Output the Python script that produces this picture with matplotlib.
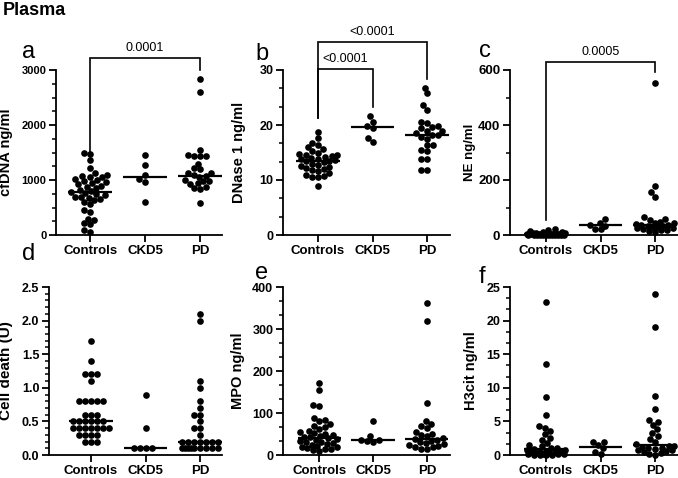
# -*- coding: utf-8 -*-
"""
Plasma markers: scatter dot plots with median lines, Controls / CKD5 / PD.
"""
import numpy as np
import matplotlib
matplotlib.use("Agg")
import matplotlib.pyplot as plt
from matplotlib.ticker import MultipleLocator

plt.rcParams['font.family'] = ['Liberation Sans', 'DejaVu Sans']

groups = ["Controls", "CKD5", "PD"]

# a: cfDNA ng/ml
cfdna_ctrl = [1500, 1480, 1360, 1210, 1120, 1100, 1080, 1060, 1050, 1020, 1000, 980, 960,
              940, 920, 900, 880, 860, 820, 800, 780, 760, 740, 720, 700, 690, 680, 660,
              640, 600, 560, 450, 420, 300, 280, 210, 200, 90, 60]
cfdna_ckd5 = [1450, 1280, 1090, 1010, 970, 605]
cfdna_pd = [2830, 2600, 1540, 1450, 1440, 1430, 1430, 1300, 1210, 1200, 1130, 1120, 1100,
            1080, 1060, 1000, 990, 980, 940, 930, 880, 850, 840, 580]
cfdna_med = [785, 1060, 1080]

# b: DNase 1 ng/ml
dnase_ctrl = [18.8, 17.6, 16.8, 16.4, 16.0, 15.6, 15.3, 15.0, 14.8, 14.6, 14.5, 14.3, 14.2,
              14.0, 13.9, 13.8, 13.6, 13.5, 13.4, 13.2, 13.0, 12.8, 12.6, 12.4, 12.2, 12.0,
              11.8, 11.6, 11.3, 11.0, 10.8, 10.6, 10.5, 9.0]
dnase_ckd5 = [21.6, 20.6, 19.8, 19.5, 17.7, 17.0]
dnase_pd = [26.8, 25.8, 23.6, 22.8, 20.6, 20.3, 19.9, 19.7, 19.4, 19.0, 19.0, 18.5, 18.2,
            18.1, 17.9, 17.5, 16.4, 16.3, 15.5, 15.2, 13.9, 13.8, 11.9, 11.8]
dnase_med = [13.5, 19.7, 18.2]

# c: NE ng/ml
ne_ctrl = [22, 18, 15, 12, 10, 8, 7, 6, 5, 5, 4, 4, 3, 3, 3, 2, 2, 2, 1, 1, 1, 1,
           0.5, 0.5, 0.5, 0.5, 0.3, 0.3, 0.2, 0.1]
ne_ckd5 = [60, 45, 38, 34, 22, 21]
ne_pd = [553, 178, 155, 140, 65, 60, 55, 48, 45, 42, 40, 38, 36, 34, 32, 30, 28, 26,
         24, 22, 20, 18, 15, 12]
ne_med = [4, 37, 35]

# d: Cell death (U)
cd_ctrl = [1.7, 1.4, 1.2, 1.2, 1.2, 1.1, 0.8, 0.8, 0.8, 0.8, 0.8, 0.6, 0.6, 0.6,
           0.5, 0.5, 0.5, 0.5, 0.5, 0.5, 0.4, 0.4, 0.4, 0.4, 0.4, 0.4, 0.4,
           0.3, 0.3, 0.3, 0.3, 0.2, 0.2, 0.2]
cd_ckd5 = [0.9, 0.4, 0.1, 0.1, 0.1, 0.1]
cd_pd = [2.1, 2.0, 1.1, 1.0, 0.8, 0.7, 0.6, 0.6, 0.5, 0.4, 0.4, 0.3,
         0.2, 0.2, 0.2, 0.2, 0.2, 0.2, 0.2,
         0.1, 0.1, 0.1, 0.1, 0.1, 0.1, 0.1, 0.1, 0.1]
cd_med = [0.5, 0.1, 0.2]

# e: MPO ng/ml
mpo_ctrl = [171, 155, 119, 116, 88, 84, 80, 75, 70, 66, 62, 58, 55, 52, 50, 48, 46, 44,
            42, 40, 38, 36, 34, 32, 30, 28, 26, 24, 22, 20, 18, 16, 15, 14, 12, 10]
mpo_ckd5 = [80, 45, 36, 35, 33, 32]
mpo_pd = [362, 320, 125, 80, 74, 70, 65, 55, 50, 48, 45, 40, 38, 36, 34, 30, 28, 26,
          24, 22, 20, 18, 15, 14]
mpo_med = [41, 35, 39]

# f: H3cit ng/ml
h3_ctrl = [22.7, 13.6, 8.6, 5.9, 4.3, 4.0, 3.5, 3.1, 2.6, 2.2, 1.8, 1.5, 1.3, 1.1, 1.0,
           0.9, 0.8, 0.7, 0.6, 0.5, 0.5, 0.4, 0.4, 0.3, 0.3, 0.2, 0.2, 0.1, 0.1, 0.05,
           0.05, 0.0, 0.0]
h3_ckd5 = [2.0, 1.9, 1.5, 1.0, 0.4, 0.2]
h3_pd = [23.9, 19.1, 8.8, 6.8, 5.2, 4.9, 4.5, 3.8, 3.2, 2.8, 2.4, 2.0, 1.6, 1.4, 1.3,
         1.2, 1.1, 1.0, 0.9, 0.8, 0.7, 0.6, 0.5, 0.3, 0.2, 0.0]
h3_med = [0.84, 1.2, 1.5]

W, H = 678, 478
fig = plt.figure(figsize=(W / 100, H / 100), dpi=100)


def px_axes(left, top, right, bottom):
    return fig.add_axes([left / W, 1 - bottom / H, (right - left) / W, (bottom - top) / H])


def swarm_x(ax, xc, vals, diam=6.0, maxw=19.0):
    # beeswarm offsets in pixels, limited to +-maxw (points overlap beyond that)
    pts = ax.transData.transform(np.column_stack([np.full(len(vals), xc), vals]))
    ys = pts[:, 1]
    xoff = np.zeros(len(vals))
    placed = []
    grid = np.linspace(-maxw, maxw, 39)
    for i in np.argsort(ys, kind="stable"):
        y = ys[i]
        near = [(px, py) for px, py in placed if abs(py - y) < diam]
        cands = [0.0]
        for px, py in near:
            dx = np.sqrt(diam ** 2 - (py - y) ** 2)
            cands += [px - dx, px + dx]
        cands = sorted([c for c in cands if abs(c) <= maxw], key=abs)
        best = None
        for c in cands:
            if all((c - px) ** 2 + (y - py) ** 2 >= diam ** 2 - 1e-6 for px, py in near):
                best = c
                break
        if best is None:
            dmin = [min((g - px) ** 2 + (y - py) ** 2 for px, py in near) for g in grid]
            best = grid[int(np.argmax(dmin))]
        xoff[i] = best
        placed.append((best, y))
    back = ax.transData.inverted().transform(np.column_stack([pts[:, 0] + xoff, ys]))
    return back[:, 0]


def panel(rect, xlim, ylim, major, minor, data, med, ylabel, lab_x, ylab_size, ytick_size):
    ax = px_axes(*rect)
    ax.set_xlim(*xlim)
    ax.set_ylim(*ylim)
    for s in ["top", "right"]:
        ax.spines[s].set_visible(False)
    for s in ["left", "bottom"]:
        ax.spines[s].set_linewidth(1.3)
    ax.yaxis.set_major_locator(MultipleLocator(major))
    ax.yaxis.set_minor_locator(MultipleLocator(minor))
    ax.set_xticks(range(3))
    ax.set_xticklabels(groups, fontweight="bold", fontsize=9.5)
    ax.tick_params(axis="x", length=5, width=1.3, pad=2)
    ax.tick_params(axis="y", which="major", length=5, width=1.3, pad=2,
                   labelsize=ytick_size)
    ax.tick_params(axis="y", which="minor", length=3, width=1.1)
    for t in ax.get_yticklabels():
        t.set_fontweight("bold")
    ax.set_ylabel(ylabel, fontweight="bold", fontsize=ylab_size)
    ax.yaxis.set_label_coords(lab_x, 0.5)
    for i, vals in enumerate(data):
        xs = swarm_x(ax, i, vals)
        ax.plot(xs, vals, "o", color="black", markersize=4.8, markeredgewidth=0,
                clip_on=False, zorder=3)
        ax.plot([i - 0.4, i + 0.4], [med[i], med[i]], color="black", lw=1.6,
                solid_capstyle="butt", zorder=4, clip_on=False)
    return ax


def bracket(ax, x1, x2, ybar, y1, y2, text, tx=None):
    ax.plot([x1, x1, x2, x2], [y1, ybar, ybar, y2], color="black", lw=1.2,
            clip_on=False, solid_joinstyle="miter")
    if tx is None:
        tx = (x1 + x2) / 2
    ax.annotate(text, xy=(tx, ybar), xytext=(0, 3), textcoords="offset points",
                ha="center", va="bottom", fontsize=9, annotation_clip=False)


ax_a = panel((56, 70, 222, 235), (-0.62, 2.4), (0, 3000), 1000, 250,
             [cfdna_ctrl, cfdna_ckd5, cfdna_pd], cfdna_med, "cfDNA ng/ml", -0.26, 10.5, 8)
bracket(ax_a, 0, 2, 3218, 1510, 3000, "0.0001")

ax_b = panel((283, 70, 450, 235), (-0.64, 2.42), (0, 30), 10, 10 / 3,
             [dnase_ctrl, dnase_ckd5, dnase_pd], dnase_med, "DNase 1 ng/ml", -0.22, 10.5, 9)
bracket(ax_b, 0, 1, 30.2, 21.3, 23.3, "<0.0001")
bracket(ax_b, 0, 2, 35.1, 21.3, 28.4, "<0.0001")

ax_c = panel((510, 70, 678, 235), (-0.66, 2.42), (0, 600), 200, 100,
             [ne_ctrl, ne_ckd5, ne_pd], ne_med, "NE ng/ml", -0.20, 9.5, 9.5)
bracket(ax_c, 0, 2, 629, 55, 593, "0.0005")

panel((49, 287, 222, 455), (-0.77, 2.4), (0, 2.5), 0.5, 0.1,
      [cd_ctrl, cd_ckd5, cd_pd], cd_med, "Cell death (U)", -0.21, 11, 9)
panel((283, 287, 450, 455), (-0.67, 2.43), (0, 400), 100, 100 / 3,
      [mpo_ctrl, mpo_ckd5, mpo_pd], mpo_med, "MPO ng/ml", -0.23, 10.5, 9)
panel((510, 287, 678, 455), (-0.66, 2.42), (0, 25), 5, 5 / 3,
      [h3_ctrl, h3_ckd5, h3_pd], h3_med, "H3cit ng/ml", -0.19, 10.5, 9)

fig.text(3 / W, 1 - 2 / H, "Plasma", fontweight="bold", fontsize=13, va="top")
for lab, x, y in [("a", 22, 58), ("b", 255, 60), ("c", 479, 57),
                  ("d", 22, 260), ("e", 255, 279), ("f", 479, 283)]:
    fig.text(x / W, 1 - y / H, lab, fontsize=17, va="baseline")

fig.savefig("out.png", dpi=100)
